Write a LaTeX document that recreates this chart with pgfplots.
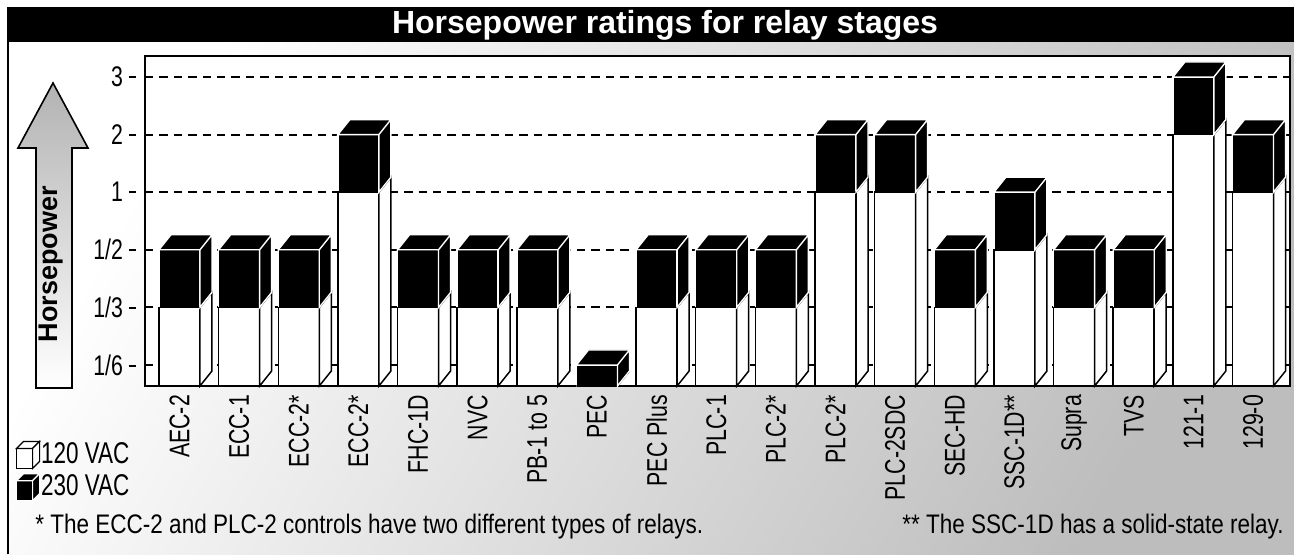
\documentclass[border=0pt]{standalone}
\usepackage{pgfplots}
\pgfplotsset{compat=1.18}
\usepackage{pgfplotstable}
\usepackage{fontspec}
\setmainfont{Liberation Sans}
\newfontfamily\cond{Liberation Sans}[FakeStretch=0.75]
\newfontfamily\footfont{Liberation Sans}[FakeStretch=0.84]

% levels: 1/6=1, 1/3=2, 1/2=3, 1=4, 2=5, 3=6 ; 0.635 = no 120 VAC stage
\pgfplotstableread{
x w b
0 2 3
1 2 3
2 2 3
3 4 5
4 2 3
5 2 3
6 2 3
7 0.635 1
8 2 3
9 2 3
10 2 3
11 4 5
12 4 5
13 2 3
14 3 4
15 2 3
16 2 3
17 5 6
18 4 5
}\hp

\pgfdeclareplotmark{wside}{%
  \pgfmathsetlengthmacro\hH{\hw*28.8pt}%
  \pgfpathmoveto{\pgfqpoint{10.25pt}{0pt}}%
  \pgfpathlineto{\pgfqpoint{16.25pt}{7.5pt}}%
  \pgfpathlineto{\pgfpoint{16.25pt}{7.5pt-\hH}}%
  \pgfpathlineto{\pgfpoint{10.25pt}{-\hH}}%
  \pgfpathclose
  \pgfusepathqfillstroke
}
\pgfdeclareplotmark{bbox}{%
  \pgfmathsetlengthmacro\hH{\hb*28.8pt}%
  \pgfpathmoveto{\pgfqpoint{10.25pt}{0pt}}%
  \pgfpathlineto{\pgfqpoint{16.25pt}{7.5pt}}%
  \pgfpathlineto{\pgfpoint{16.25pt}{7.5pt-\hH}}%
  \pgfpathlineto{\pgfpoint{10.25pt}{-\hH}}%
  \pgfpathclose
  \pgfpathmoveto{\pgfqpoint{-10.25pt}{0pt}}%
  \pgfpathlineto{\pgfqpoint{-4.25pt}{7.5pt}}%
  \pgfpathlineto{\pgfqpoint{16.25pt}{7.5pt}}%
  \pgfpathlineto{\pgfqpoint{10.25pt}{0pt}}%
  \pgfpathclose
  \pgfusepathqfillstroke
}
\newcommand{\tk}[1]{#1\hspace{3pt}\rule[0.3em]{3.5pt}{1pt}}

\begin{document}
\begin{tikzpicture}
\useasboundingbox (0,0) rectangle (647pt,277pt);
% background
\fill[white] (0,0) rectangle (647pt,277pt);
\shade[top color=white, bottom color=black!26, shading angle=60] (3.5pt,0) rectangle (647pt,256pt);
% frame and title bar
\fill[black] (3.5pt,256pt) rectangle (647pt,273.5pt);
\draw[line width=1.2pt] (4pt,0) -- (4pt,273.5pt);
\node[text=white, font=\fontsize{16}{18}\selectfont\bfseries] at (332.5pt,264.5pt) {Horsepower ratings for relay stages};
% arrow
\shade[top color=black!30, bottom color=white]
  (26.5pt,235.5pt) -- (44pt,203pt) -- (36pt,203pt) -- (36pt,83pt) -- (18pt,83pt) -- (18pt,203pt) -- (9pt,203pt) -- cycle;
\draw[black, line width=0.8pt] (26.5pt,235.5pt) -- (44pt,203pt) -- (36pt,203pt) -- (36pt,83pt) -- (18pt,83pt) -- (18pt,203pt) -- (9pt,203pt) -- cycle;
\node[rotate=90, font=\fontsize{13.5}{15}\selectfont\bfseries] at (25.3pt,145pt) {Horsepower};
% footnotes
\node[anchor=west, font=\footfont\fontsize{13.4}{15}\selectfont, inner sep=0pt] at (17.5pt,13.5pt) {* The ECC-2 and PLC-2 controls have two different types of relays.};
\node[anchor=east, font=\footfont\fontsize{13.4}{15}\selectfont, inner sep=0pt] at (642pt,13.5pt) {** The SSC-1D has a solid-state relay.};

\begin{axis}[
  at={(72.5pt,84pt)}, anchor=south west,
  x=29.82pt, y=28.8pt,
  xmin=-0.578, xmax=18.62, ymin=0.635, ymax=6.365,
  axis background/.style={fill=white},
  axis line style={line width=1pt},
  major tick length=0pt,
  xtick={0,...,18},
  xticklabels={AEC-2, ECC-1, ECC-2*, ECC-2*, FHC-1D, NVC, PB-1 to 5, PEC, PEC Plus, PLC-1, PLC-2*, PLC-2*, PLC-2SDC, SEC-HD, SSC-1D**, Supra, TVS, 121-1, 129-0},
  xticklabel style={rotate=90, anchor=east, font=\cond\fontsize{14.2}{16}\selectfont, xshift=-1pt},
  ytick={1,...,6},
  yticklabels={\tk{1/6}, \tk{1/3}, \tk{1/2}, \tk{1}, \tk{2}, \tk{3}},
  yticklabel style={font=\cond\fontsize{14.2}{16}\selectfont, xshift=-1pt},
  ymajorgrids,
  grid style={black, line width=1pt, dash pattern=on 4.2pt off 3pt},
  legend style={at={(-0.113,-0.165)}, anchor=north west, draw=none, fill=none,
    font=\cond\fontsize{15}{17}\selectfont, inner sep=0pt, row sep=2pt,
    nodes={inner sep=0.4pt}},
  legend cell align=left,
]
\addplot[ybar, bar width=20.5pt, bar shift=0pt, fill=black, draw=white, line width=0.7pt, forget plot] table[x=x, y=b] {\hp};
\addplot[ybar, bar width=20.5pt, bar shift=0pt, fill=white, draw=black, line width=0.75pt, forget plot] table[x=x, y=w] {\hp};
\addplot[scatter, only marks, mark=wside, forget plot,
  scatter/use mapped color={draw=black, fill=white},
  mark options={line width=0.75pt},
  visualization depends on={\thisrow{w}-0.635 \as \hw}] table[x=x, y=w] {\hp};
\addplot[scatter, only marks, mark=bbox, forget plot,
  scatter/use mapped color={draw=white, fill=black},
  mark options={line width=0.7pt},
  visualization depends on={\thisrow{b}-\thisrow{w} \as \hb}] table[x=x, y=b] {\hp};
\addlegendimage{legend image code/.code={
  \draw[fill=white, draw=black, line width=0.6pt] (0pt,-7pt) rectangle (8pt,3pt);
  \draw[fill=white, draw=black, line width=0.6pt] (0pt,3pt) -- (3.5pt,6.5pt) -- (11.5pt,6.5pt) -- (8pt,3pt) -- cycle;
  \draw[fill=white, draw=black, line width=0.6pt] (8pt,3pt) -- (11.5pt,6.5pt) -- (11.5pt,-3.5pt) -- (8pt,-7pt) -- cycle;
}}
\addlegendentry{120 VAC}
\addlegendimage{legend image code/.code={
  \draw[fill=black, draw=white, line width=0.6pt] (0pt,-7pt) rectangle (8pt,3pt);
  \draw[fill=black, draw=white, line width=0.6pt] (0pt,3pt) -- (3.5pt,6.5pt) -- (11.5pt,6.5pt) -- (8pt,3pt) -- cycle;
  \draw[fill=black, draw=white, line width=0.6pt] (8pt,3pt) -- (11.5pt,6.5pt) -- (11.5pt,-3.5pt) -- (8pt,-7pt) -- cycle;
}}
\addlegendentry{230 VAC}
\end{axis}
\end{tikzpicture}
\end{document}
